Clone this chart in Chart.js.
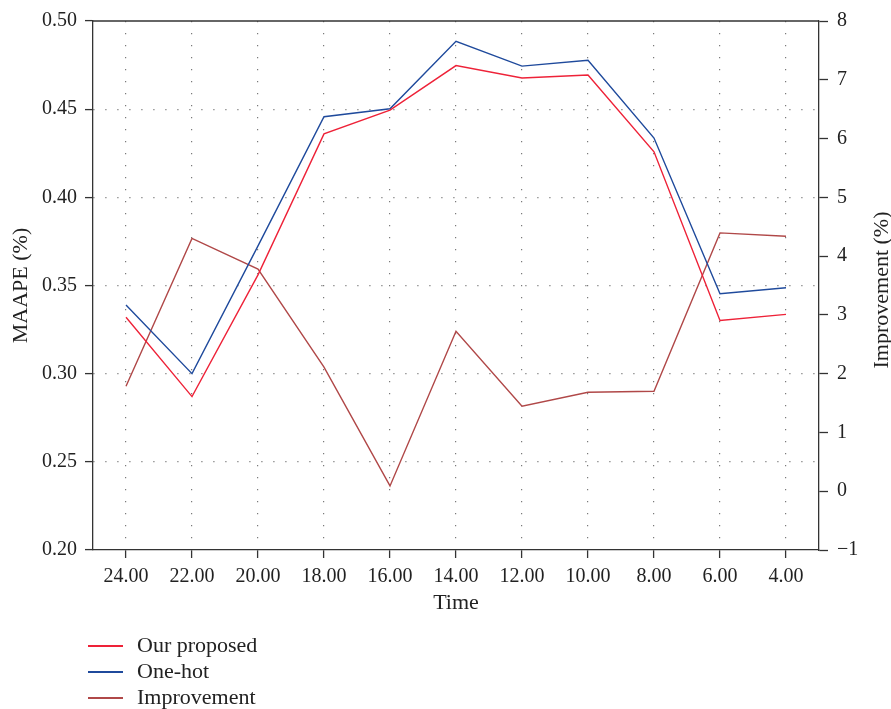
<!DOCTYPE html>
<html>
<head>
<meta charset="utf-8">
<script src="https://cdn.jsdelivr.net/npm/chart.js@4/dist/chart.umd.min.js"></script>
<style>
  html, body { margin: 0; padding: 0; background: #fff; }
  #wrap { width: 891px; height: 709px; }
</style>
</head>
<body>
<div id="wrap"><canvas id="chart"></canvas></div>
<script>
// values
const times = ["24.00", "22.00", "20.00", "18.00", "16.00", "14.00", "12.00", "10.00", "8.00", "6.00", "4.00"];
const ourProposed = [0.332, 0.287, 0.356, 0.436, 0.4495, 0.4747, 0.4677, 0.4694, 0.4258, 0.3302, 0.3336];
const oneHot = [0.3389, 0.300, 0.3725, 0.4457, 0.4502, 0.4885, 0.4744, 0.4777, 0.4336, 0.3453, 0.3487];
const improvement = [1.785, 4.30, 3.78, 2.11, 0.09, 2.72, 1.445, 1.683, 1.70, 4.395, 4.337];

const FONT = "'Liberation Serif', 'DejaVu Serif', serif";
const TEXT = "#222";
const AXIS = "#333";
const DOTS = "#7a7a7a";

// top frame line, right-hand title and the stacked legend
const extras = {
  id: "extras",
  afterDraw(chart) {
    const { ctx, chartArea: a } = chart;
    ctx.save();
    ctx.strokeStyle = AXIS;
    ctx.lineWidth = 1.3;
    ctx.beginPath();
    ctx.moveTo(a.left, a.top);
    ctx.lineTo(a.right, a.top);
    ctx.stroke();

    ctx.fillStyle = TEXT;
    ctx.font = "22px " + FONT;
    ctx.textAlign = "center";
    ctx.textBaseline = "middle";
    ctx.translate(882, 290);
    ctx.rotate(-Math.PI / 2);
    ctx.fillText("Improvement (%)", 0, 0);
    ctx.restore();

    ctx.save();
    ctx.font = "22px " + FONT;
    ctx.textAlign = "left";
    ctx.textBaseline = "middle";
    chart.data.datasets.forEach((ds, i) => {
      const y = 646 + i * 26;
      ctx.strokeStyle = ds.borderColor;
      ctx.lineWidth = 1.8;
      ctx.beginPath();
      ctx.moveTo(88, y);
      ctx.lineTo(123, y);
      ctx.stroke();
      ctx.fillStyle = TEXT;
      ctx.fillText(ds.label, 137, y);
    });
    ctx.restore();
  }
};

const dotted = [1.2, 10.8];

new Chart(document.getElementById("chart"), {
  type: "line",
  data: {
    labels: times,
    datasets: [
      { label: "Our proposed", data: ourProposed, yAxisID: "y", borderColor: "#ee2238" },
      { label: "One-hot", data: oneHot, yAxisID: "y", borderColor: "#1f4a9c" },
      { label: "Improvement", data: improvement, yAxisID: "y1", borderColor: "#b04848" }
    ]
  },
  options: {
    responsive: true,
    maintainAspectRatio: false,
    animation: false,
    devicePixelRatio: 1,
    layout: { padding: { top: 20, left: 0, right: 0, bottom: 93 } },
    elements: {
      line: { borderWidth: 1.4, tension: 0, fill: false },
      point: { radius: 0, hoverRadius: 0 }
    },
    plugins: { legend: { display: false }, tooltip: { enabled: false } },
    scales: {
      x: {
        type: "category",
        offset: true,
        grid: {
          offset: false,
          color: DOTS,
          lineWidth: 1.2,
          tickColor: AXIS,
          tickLength: 8,
          tickWidth: 1.3,
          tickBorderDash: []
        },
        border: { color: AXIS, width: 1.3, dash: dotted },
        ticks: { color: TEXT, font: { family: FONT, size: 20 }, padding: 7, maxRotation: 0, autoSkip: false },
        title: { display: true, text: "Time", color: TEXT, font: { family: FONT, size: 22 }, padding: 0 },
        afterFit(s) { s.height = 66; }
      },
      y: {
        position: "left",
        min: 0.2,
        max: 0.5,
        ticks: {
          stepSize: 0.05,
          color: TEXT,
          font: { family: FONT, size: 20 },
          padding: 8,
          callback: v => v.toFixed(2)
        },
        grid: {
          color: c => (Math.abs(c.tick.value - 0.2) < 1e-6 || Math.abs(c.tick.value - 0.5) < 1e-6) ? "rgba(0,0,0,0)" : DOTS,
          lineWidth: 1.2,
          tickColor: AXIS,
          tickLength: 8,
          tickWidth: 1.3,
          tickBorderDash: []
        },
        border: { color: AXIS, width: 1.3, dash: dotted },
        title: { display: true, text: "MAAPE (%)", color: TEXT, font: { family: FONT, size: 22 }, padding: { top: 8, bottom: 0 } },
        afterFit(s) { s.width = 93; }
      },
      y1: {
        position: "right",
        min: -1,
        max: 8,
        ticks: {
          stepSize: 1,
          color: TEXT,
          font: { family: FONT, size: 20 },
          padding: 9,
          callback: v => String(v).replace("-", "\u2212")
        },
        grid: {
          drawOnChartArea: false,
          tickColor: AXIS,
          tickLength: 9,
          tickWidth: 1.3,
          tickBorderDash: []
        },
        border: { color: AXIS, width: 1.3 },
        afterFit(s) { s.width = 72; }
      }
    }
  },
  plugins: [extras]
});
</script>
</body>
</html>
